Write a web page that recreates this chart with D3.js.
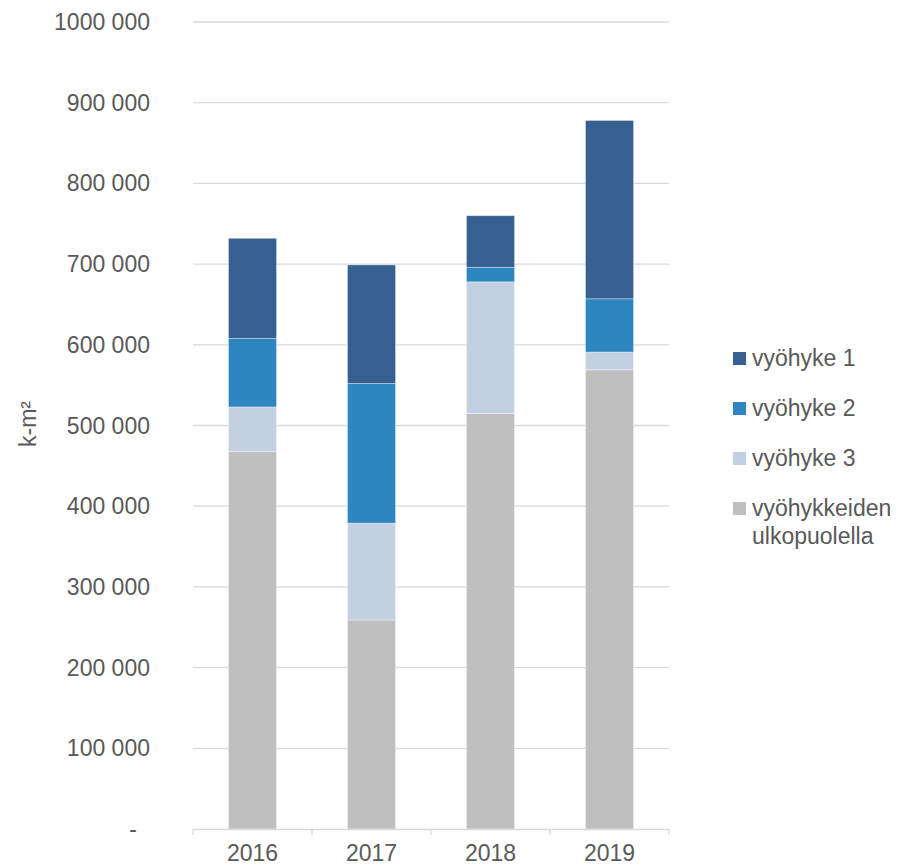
<!DOCTYPE html>
<html>
<head>
	<meta charset="utf-8">
	<title>k-m² vyöhykkeittäin</title>
	<script src="https://d3js.org/d3.v7.min.js"></script>
	<style>
		body { margin: 0; background: #fff; }
		text { font-family: Arial, "Liberation Sans", sans-serif; fill: #595959; }
	</style>
</head>
<body>
	<script>
		// values (k-m²)
		var years = ["2016", "2017", "2018", "2019"];
		var ulkopuolella = [468000, 259000, 515000, 569000];
		var vyohyke3 = [55000, 120000, 163000, 22000];
		var vyohyke2 = [85000, 173000, 18000, 66000];
		var vyohyke1 = [124000, 147000, 64000, 221000];
		var yTicks = [0, 100000, 200000, 300000, 400000, 500000, 600000, 700000, 800000, 900000, 1000000];

		var seriesNames = ["vyöhykkeiden ulkopuolella", "vyöhyke 3", "vyöhyke 2", "vyöhyke 1"];
		var colors = ["#bfbfbf", "#c3d0e2", "#2e86c1", "#376092"];

		var rows = years.map(function(y, i) {
			return {year: y, s0: ulkopuolella[i], s1: vyohyke3[i], s2: vyohyke2[i], s3: vyohyke1[i]};
		});

		var svgWidth = 899,
			svgHeight = 866,
			margin = {top: 22, right: 230, bottom: 37, left: 193},
			width = svgWidth - margin.left - margin.right,
			height = svgHeight - margin.top - margin.bottom,
			fontSize = "23px";

		var svg = d3.select("body").append("svg")
			.attr("width", svgWidth)
			.attr("height", svgHeight);
		var g = svg.append("g")
			.attr("transform", "translate(" + margin.left + "," + margin.top + ")");

		var x = d3.scaleBand().domain(years).range([0, width]).paddingInner(0.596).paddingOuter(0.298);
		var y = d3.scaleLinear().domain([0, 1000000]).range([height, 0]);

		// gridlines
		g.append("g")
			.selectAll("line")
			.data(yTicks.slice(1))
			.enter().append("line")
			.attr("x1", 0)
			.attr("x2", width)
			.attr("y1", function(d) { return y(d); })
			.attr("y2", function(d) { return y(d); })
			.attr("stroke", "#d9d9d9")
			.attr("stroke-width", 1.3);

		// y labels, "# ##0" style with "-" for zero
		var fmt = function(d) {
			if (d === 0) return "-";
			return d3.format(",")(d).replace(/,(?=\d{3}$)/, " ").replace(/,/g, "");
		};
		g.append("g")
			.selectAll("text")
			.data(yTicks)
			.enter().append("text")
			.attr("x", function(d) { return d === 0 ? -56 : -43; })
			.attr("y", function(d) { return y(d); })
			.attr("dy", "0.35em")
			.attr("text-anchor", "end")
			.attr("font-size", fontSize)
			.text(fmt);

		// stacked bars
		var stack = d3.stack().keys(["s0", "s1", "s2", "s3"]);
		var layers = stack(rows);

		g.append("g")
			.selectAll("g")
			.data(layers)
			.enter().append("g")
			.attr("fill", function(d, i) { return colors[i]; })
			.selectAll("rect")
			.data(function(d) { return d; })
			.enter().append("rect")
			.attr("x", function(d) { return x(d.data.year); })
			.attr("y", function(d) { return y(d[1]); })
			.attr("width", x.bandwidth())
			.attr("height", function(d) { return y(d[0]) - y(d[1]); })
			.attr("stroke", "#ffffff")
			.attr("stroke-opacity", 0.45)
			.attr("stroke-width", 0.8);

		// x axis
		var xAxis = g.append("g")
			.attr("transform", "translate(0," + height + ")")
			.call(d3.axisBottom(x).tickSize(0).tickPadding(16));
		xAxis.select(".domain").attr("stroke", "#d9d9d9").attr("stroke-width", 1.3);
		xAxis.selectAll("text").attr("font-size", fontSize).attr("fill", "#595959")
			.attr("font-family", "Arial, 'Liberation Sans', sans-serif");
		// category separator ticks
		var step = x.step();
		xAxis.append("g")
			.selectAll("line")
			.data(d3.range(years.length + 1))
			.enter().append("line")
			.attr("x1", function(i) { return i * step; })
			.attr("x2", function(i) { return i * step; })
			.attr("y1", 0)
			.attr("y2", 6)
			.attr("stroke", "#d9d9d9")
			.attr("stroke-width", 1.3);

		// y title
		svg.append("text")
			.attr("transform", "translate(36," + 424 + ") rotate(-90)")
			.attr("text-anchor", "middle")
			.attr("font-size", fontSize)
			.text("k-m²");

		// legend, top series first
		var legendItems = [
			{name: ["vyöhyke 1"], color: colors[3]},
			{name: ["vyöhyke 2"], color: colors[2]},
			{name: ["vyöhyke 3"], color: colors[1]},
			{name: ["vyöhykkeiden", "ulkopuolella"], color: colors[0]}
		];
		var legend = svg.append("g").attr("transform", "translate(733,358)");
		var item = legend.selectAll("g")
			.data(legendItems)
			.enter().append("g")
			.attr("transform", function(d, i) { return "translate(0," + (i * 50) + ")"; });
		item.append("rect")
			.attr("x", 0)
			.attr("y", -6)
			.attr("width", 13)
			.attr("height", 13)
			.attr("fill", function(d) { return d.color; });
		item.append("text")
			.attr("x", 19)
			.attr("y", 0)
			.attr("font-size", fontSize)
			.selectAll("tspan")
			.data(function(d) { return d.name; })
			.enter().append("tspan")
			.attr("x", 19)
			.attr("dy", function(d, i) { return i === 0 ? "0.35em" : "1.2em"; })
			.text(function(d) { return d; });
	</script>
</body>
</html>
